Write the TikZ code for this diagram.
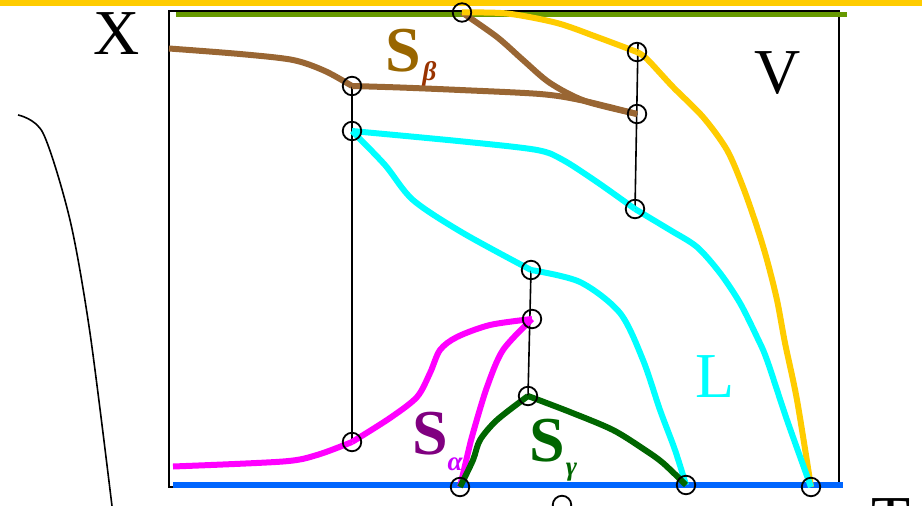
\documentclass[tikz,border=0pt]{standalone}
\usepackage{fontspec}
\setmainfont{Liberation Serif}
\definecolor{bandyellow}{HTML}{FFCC00}
\definecolor{topgreen}{HTML}{669900}
\definecolor{botblue}{HTML}{0066FF}
\definecolor{brownc}{HTML}{996633}
\definecolor{sbeta}{HTML}{996600}
\definecolor{betac}{HTML}{993300}
\definecolor{salpha}{HTML}{800080}
\definecolor{alphac}{HTML}{CC00FF}
\definecolor{dgreen}{HTML}{006600}
\definecolor{cyanc}{HTML}{00FFFF}
\definecolor{magc}{HTML}{FF00FF}
\begin{document}
\begin{tikzpicture}[x=1pt,y=-1pt,
  curve/.style={line width=6pt,line cap=butt,line join=round},
  dot/.style={circle,draw=black,line width=1.8pt,minimum size=18.5pt,inner sep=0pt},
  thinl/.style={line width=1.6pt,black},
  lab/.style={inner sep=0pt,anchor=base,font=\fontsize{64}{64}\selectfont},
  slab/.style={inner sep=0pt,anchor=base,font=\fontsize{64}{64}\selectfont\bfseries},
  sublab/.style={inner sep=0pt,anchor=base,font=\fontsize{27}{27}\selectfont\bfseries\itshape}]
\useasboundingbox (0,0) rectangle (922,506);
% top band
\fill[bandyellow] (0,0) rectangle (922,5.5);
% named points
\coordinate (top) at (462,12.5);
\coordinate (yv) at (637,52);
\coordinate (bv) at (637,114);
\coordinate (bl) at (352,86);
\coordinate (cl) at (352,131);
\coordinate (cv) at (635,209);
\coordinate (cm) at (531,270);
\coordinate (mv) at (532,319);
\coordinate (gv) at (528,396);
\coordinate (ml) at (352,442);
\coordinate (ab) at (460,487);
\coordinate (lb) at (686,485);
\coordinate (vb) at (811,487);
\coordinate (bb) at (562,505);
\coordinate (vtop) at (638,43);
% frame
\draw[thinl] (169,11) rectangle (839,487);
% top and bottom lines
\draw[line width=5.5pt,topgreen] (176,14.5) -- (847,14.5);
\draw[line width=6pt,botblue] (173,485) -- (843,485);
% vertical tie lines
\draw[thinl] (bl) -- (ml);
\draw[thinl] (vtop) -- (cv);
\draw[thinl] (cm) -- (gv);
% left curve
\draw[line width=1.6pt] plot[smooth] coordinates {(18,115) (43,133) (70,220) (90,333) (112,506)};
% brown curves
\draw[curve,brownc] plot[smooth] coordinates {(169,48.5) (240,54) (293,60) (325,71) (bl)};
\draw[curve,brownc] plot[smooth] coordinates {(bl) (400,87.5) (460,90) (540,94) (580,100) (bv)};
\draw[curve,brownc] plot[smooth] coordinates {(top) (497,37) (523,60) (550,83) (585,101) (bv)};
% yellow curve
\draw[curve,bandyellow] plot[smooth] coordinates {(top) (507,13.5) (557,23) (597,37) (yv)};
\draw[curve,bandyellow] plot[smooth] coordinates {(yv) (647,59) (673,87) (703,117) (727,150) (743,187) (757,227) (767,260) (777,300) (785,343) (797,400) (vb)};
% cyan curves
\draw[curve,cyanc] plot[smooth] coordinates {(cl) (463,141.5) (537,150) (563,160) (597,182) (cv)};
\draw[curve,cyanc] plot[smooth] coordinates {(cv) (670,230) (697,247) (720,273) (740,303) (757,337) (767,360) (787,420) (vb)};
\draw[curve,cyanc] plot[smooth] coordinates {(cl) (385,165) (413,200) (463,233) (cm)};
\draw[curve,cyanc] plot[smooth] coordinates {(cm) (580,282) (620,313) (643,360) (660,410) (675,450) (lb)};
% magenta curves
\draw[curve,magc] plot[smooth] coordinates {(173,466.5) (283,461.5) (317,455) (ml)};
\draw[curve,magc] plot[smooth] coordinates {(ml) (390,418) (417,397) (430,373) (440,350) (457,337) (490,325) (mv)};
\draw[curve,magc] plot[smooth] coordinates {(ab) (467,457) (473,433) (487,387) (503,350) (mv)};
% dark green curves
\draw[curve,dgreen] plot[smooth] coordinates {(ab) (473,460) (480,440) (497,420) (gv)};
\draw[curve,dgreen] plot[smooth] coordinates {(gv) (570,412) (613,430) (645,450) (663,463) (lb)};
% circles
\foreach \p in {top,yv,bv,bl,cl,cv,cm,mv,gv,ml,ab,lb,vb,bb}
  \node[dot] (n\p) at (\p) {};
% labels
\node[lab] (lx) at (117,54) {X};
\node[lab] (lv) at (777.5,93) {V};
\node[lab,text=cyanc] (ll) at (715,397) {L};
\node[lab] (lt) at (891,540) {T};
\node[slab,text=sbeta] (sb) at (403.5,71) {S};
\node[sublab,text=betac] (sbb) at (429.5,80) {β};
\node[slab,text=salpha] (sa) at (430,454) {S};
\node[sublab,text=alphac] (saa) at (455,470) {α};
\node[slab,text=dgreen] (sg) at (547.5,461) {S};
\node[sublab,text=dgreen] (sgg) at (571.5,475) {γ};
\end{tikzpicture}
\end{document}
